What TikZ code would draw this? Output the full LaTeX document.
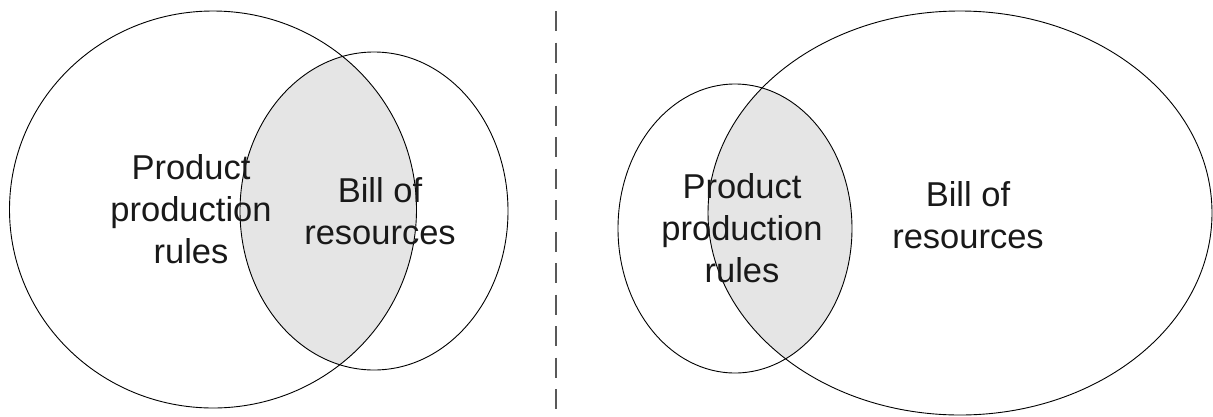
\documentclass[tikz,border=0pt]{standalone}
\usepackage{fontspec}
\setmainfont{Liberation Sans}
\usepackage{tikz}
\tikzset{
	setline/.style={line width=0.9pt},
	overlap/.style={fill=black!10},
	divider/.style={line width=1.3pt, draw=black!65, dash pattern=on 20pt off 11.5pt},
	setlabel/.style={align=center, inner sep=0pt, text=black!90, font=\fontsize{34.5}{42}\selectfont},
}
\begin{document}
\begin{tikzpicture}[x=1pt, y=-1pt]
			\useasboundingbox (0,0) rectangle (1213,416);
			% left pair
			\coordinate (rulesL) at (213,209.5);
			\coordinate (bomL) at (374,211);
			\begin{scope}
				\clip (rulesL) ellipse [x radius=203.5pt, y radius=198.5pt];
				\fill[overlap] (bomL) ellipse [x radius=134pt, y radius=159pt];
			\end{scope}
			\draw[setline] (rulesL) ellipse [x radius=203.5pt, y radius=198.5pt];
			\draw[setline] (bomL) ellipse [x radius=134pt, y radius=159pt];
			\node[setlabel] (rulesLtext) at (191,209.5) {Product\\production\\rules};
			\node[setlabel] (bomLtext) at (380,211.5) {Bill of\\resources};
			% divider
			\coordinate (dashTop) at (556,11);
			\coordinate (dashBot) at (556,412);
			\draw[divider] (dashTop) -- (dashBot);
			% right pair
			\coordinate (rulesR) at (735,228.5);
			\coordinate (bomR) at (960,213);
			\begin{scope}
				\clip (bomR) ellipse [x radius=252pt, y radius=202pt];
				\fill[overlap] (rulesR) ellipse [x radius=117pt, y radius=144.5pt];
			\end{scope}
			\draw[setline] (rulesR) ellipse [x radius=117pt, y radius=144.5pt];
			\draw[setline] (bomR) ellipse [x radius=252pt, y radius=202pt];
			\node[setlabel] (rulesRtext) at (742,228) {Product\\production\\rules};
			\node[setlabel] (bomRtext) at (968,215) {Bill of\\resources};
		\end{tikzpicture}
\end{document}
